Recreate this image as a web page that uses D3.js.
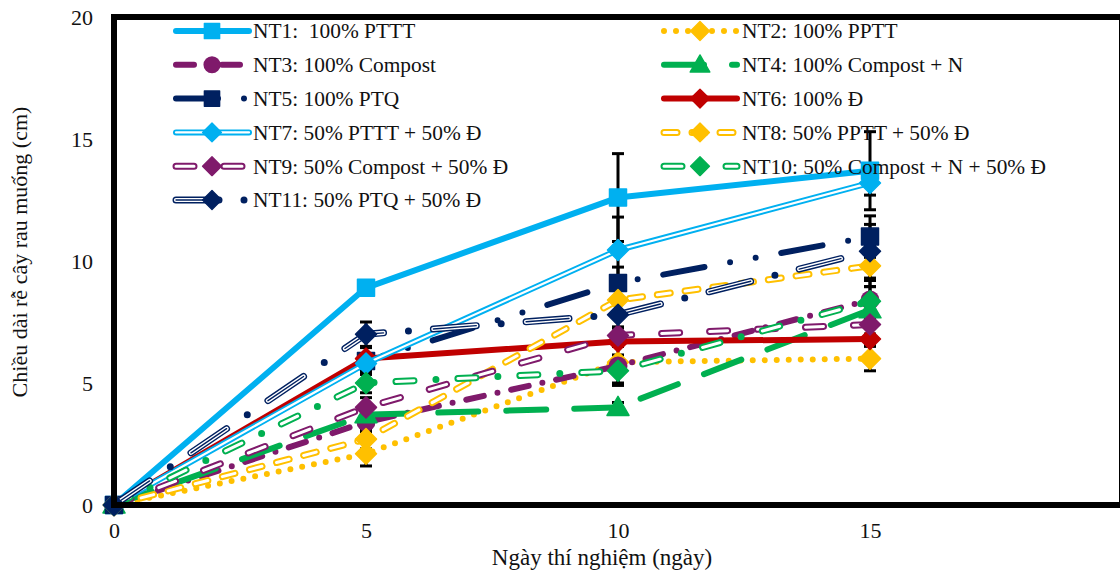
<!DOCTYPE html>
<meta charset="utf-8">
<style>
  body { margin: 0; background: #fff; }
  svg text { font-family: 'Liberation Serif', 'Times New Roman', 'DejaVu Serif', serif; fill: #111; }
  .tick text { font-size: 22px; }
  .legend text { font-size: 21.4px; white-space: pre; }
</style>
<body>
<script src="https://cdn.jsdelivr.net/npm/d3@7/dist/d3.min.js"></script>
<script>

var width = 1120,
    height = 571;
var serif = "'Liberation Serif', 'Times New Roman', 'DejaVu Serif', serif";

// values
var days = [0, 5, 10, 15];
var xTicks = [0, 5, 10, 15];
var yTicks = [0, 5, 10, 15, 20];

var nt1  = [0, 8.9, 12.6, 13.7];
var nt2  = [0, 2.1, 5.85, 6.0];
var nt3  = [0, 3.4, 5.7, 8.4];
var nt4  = [0, 3.7, 4.0, 8.0];
var nt5  = [0, 5.9, 9.1, 11.0];
var nt6  = [0, 6.0, 6.7, 6.8];
var nt7  = [0, 5.8, 10.45, 13.2];
var nt8  = [0, 2.7, 8.4, 9.8];
var nt9  = [0, 4.0, 6.95, 7.4];
var nt10 = [0, 5.0, 5.5, 8.35];
var nt11 = [0, 7.0, 7.8, 10.4];

var err1  = [0, 0.1, 1.8, 1.6];
var err2  = [0, 0.5, 0.3, 0.5];
var err3  = [0, 0.4, 0.8, 0.8];
var err4  = [0, 0.3, 0.2, 0.5];
var err5  = [0, 0.55, 0.65, 0.85];
var err6  = [0, 0.2, 0.2, 0.2];
var err7  = [0, 0.3, 1.35, 0.5];
var err8  = [0, 0.4, 0.5, 0.85];
var err9  = [0, 0.4, 0.3, 0.4];
var err10 = [0, 0.4, 0.5, 0.6];
var err11 = [0, 0.5, 0.5, 1.1];

var names = ["NT1:  100% PTTT", "NT2: 100% PPTT", "NT3: 100% Compost", "NT4: 100% Compost + N",
             "NT5: 100% PTQ", "NT6: 100% Đ", "NT7: 50% PTTT + 50% Đ", "NT8: 50% PPTT + 50% Đ",
             "NT9: 50% Compost + 50% Đ", "NT10: 50% Compost + N + 50% Đ", "NT11: 50% PTQ + 50% Đ"];

var blue = "#00B0F0", yellow = "#FFC000", purple = "#7F1A6B", green = "#00B050",
    navy = "#002060", red = "#C00000";

// line looks (Excel-ish)
var styles = [
  {c: blue,   w: 6, dash: null,             marker: "square"},
  {c: yellow, w: 6, dash: "0 12",           marker: "diamond"},
  {c: purple, w: 6, dash: "18 14 0 14",     marker: "circle"},
  {c: green,  w: 6, dash: "40 28",          marker: "triangle"},
  {c: navy,   w: 6, dash: "42 26 0 26 0 26", marker: "square"},
  {c: red,    w: 6, dash: null,             marker: "diamond"},
  {c: blue,   w: 6, dash: null, inner: 2.2, innerDash: null, marker: "diamond"},
  {c: yellow, w: 7, dash: "13 15", inner: 3, innerDash: "13 15", marker: "diamond"},
  {c: purple, w: 7, dash: "18 30", inner: 3, innerDash: "18 30", marker: "diamond"},
  {c: green,  w: 7, dash: "18 22 0 22", inner: 3, innerDash: "18 44", marker: "diamond"},
  {c: navy,   w: 7, dash: "43 25 0 25", inner: 4.2, innerDash: "43 50", core: 1.4, marker: "diamond"}
];

var values = [nt1, nt2, nt3, nt4, nt5, nt6, nt7, nt8, nt9, nt10, nt11];
var errors = [err1, err2, err3, err4, err5, err6, err7, err8, err9, err10, err11];

var x = d3.scaleLinear().domain([0, 20]).range([114, 1122]);
var y = d3.scaleLinear().domain([0, 20]).range([505, 17]);

var svg = d3.select("body").append("svg")
    .attr("width", width)
    .attr("height", height)
    .attr("font-family", serif);

var line = d3.line()
    .x(function(d) { return x(d[0]); })
    .y(function(d) { return y(d[1]); });

function markerPath(type) {
  if (type == "diamond") return "M0,-10.5L10.5,0L0,10.5L-10.5,0Z";
  if (type == "triangle") return "M0,-11L11,8L-11,8Z";
  if (type == "square") return "M-8.5,-8.5H8.5V8.5H-8.5Z";
  return null;
}

function drawMarker(g, type, color, cx, cy, k) {
  k = k || 1;
  if (type == "circle") {
    g.append("circle").attr("cx", cx).attr("cy", cy).attr("r", 9.5 * k)
      .attr("fill", color);
  } else {
    g.append("path").attr("d", markerPath(type))
      .attr("transform", "translate(" + cx + "," + cy + ") scale(" + k + ")")
      .attr("fill", color).attr("stroke", color)
      .attr("stroke-width", 1.5).attr("stroke-linejoin", "round");
  }
}

function drawLine(g, st, d) {
  g.append("path").attr("d", d)
    .attr("fill", "none").attr("stroke", st.c).attr("stroke-width", st.w)
    .attr("stroke-linecap", "round").attr("stroke-linejoin", "round")
    .attr("stroke-dasharray", st.dash);
  if (st.inner) {
    g.append("path").attr("d", d)
      .attr("fill", "none").attr("stroke", "#fff").attr("stroke-width", st.inner)
      .attr("stroke-linecap", "round").attr("stroke-linejoin", "round")
      .attr("stroke-dasharray", st.innerDash);
  }
  if (st.core) {
    g.append("path").attr("d", d)
      .attr("fill", "none").attr("stroke", st.c).attr("stroke-width", st.core)
      .attr("stroke-linecap", "round").attr("stroke-dasharray", st.innerDash);
  }
}

// error bars
var eg = svg.append("g").attr("class", "errors");
values.forEach(function(vals, i) {
  vals.forEach(function(v, j) {
    var e = errors[i][j];
    if (!e) return;
    var px = x(days[j]);
    eg.append("line").attr("x1", px).attr("x2", px)
      .attr("y1", y(v - e)).attr("y2", y(v + e))
      .attr("stroke", "#000").attr("stroke-width", 3);
    [v - e, v + e].forEach(function(t) {
      eg.append("line").attr("x1", px - 6).attr("x2", px + 6)
        .attr("y1", y(t)).attr("y2", y(t))
        .attr("stroke", "#000").attr("stroke-width", 3);
    });
  });
});

// series
values.forEach(function(vals, i) {
  var st = styles[i];
  var g = svg.append("g").attr("class", "series nt" + (i + 1));
  var pts = days.map(function(d, j) { return [d, vals[j]]; });
  drawLine(g, st, line(pts));
  pts.forEach(function(p) {
    drawMarker(g, st.marker, st.c, x(p[0]), y(p[1]));
  });
});

// frame
svg.append("rect")
    .attr("x", x(0)).attr("y", y(20))
    .attr("width", x(20) - x(0)).attr("height", y(0) - y(20))
    .attr("fill", "none").attr("stroke", "#000").attr("stroke-width", 6);

// axes
svg.append("g")
    .attr("transform", "translate(" + x(0) + ",0)")
    .call(d3.axisLeft(y).tickValues(yTicks).tickSize(0).tickPadding(21))
    .attr("font-family", serif).attr("font-size", 22)
    .call(function(g) { g.select(".domain").remove(); })
    .selectAll("text").attr("fill", "#111");

svg.append("g")
    .attr("transform", "translate(0," + y(0) + ")")
    .call(d3.axisBottom(x).tickValues(xTicks).tickSize(0).tickPadding(17))
    .attr("font-family", serif).attr("font-size", 22)
    .call(function(g) { g.select(".domain").remove(); })
    .selectAll("text").attr("fill", "#111");

svg.append("text")
    .attr("x", 602).attr("y", 565)
    .attr("text-anchor", "middle")
    .attr("font-family", serif)
    .style("font-size", "23px")
    .text("Ngày thí nghiệm (ngày)");

svg.append("text")
    .attr("transform", "translate(27,252) rotate(-90)")
    .attr("text-anchor", "middle")
    .attr("font-family", serif)
    .style("font-size", "22px")
    .text("Chiều dài rễ cây rau muống (cm)");

// legend
var legend = svg.append("g").attr("class", "legend");
names.forEach(function(name, i) {
  var col = i % 2, row = Math.floor(i / 2);
  var x0 = col ? 664 : 176, ly = 31 + row * 33.8;
  var st = styles[i];
  var g = legend.append("g");
  drawLine(g, st, "M" + x0 + "," + ly + "H" + (x0 + 73));
  drawMarker(g, st.marker, st.c, x0 + 36, ly, 0.9);
  g.append("text")
    .attr("x", x0 + (col ? 78 : 77)).attr("y", ly)
    .attr("dy", "0.35em")
    .attr("font-family", serif)
    .text(name);
});

</script>
</body>
